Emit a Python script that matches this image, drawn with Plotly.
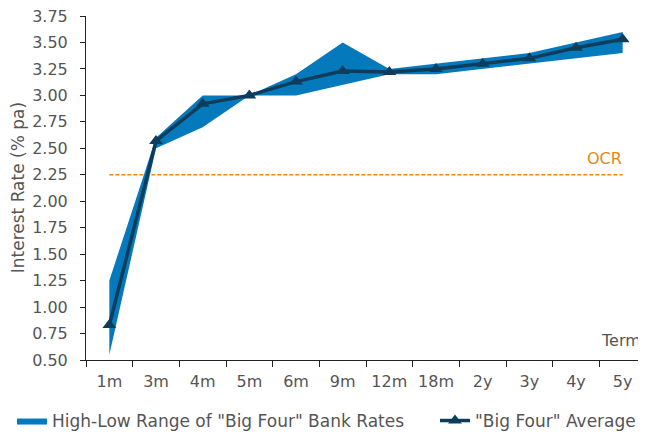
import plotly.graph_objects as go

terms = ["1m", "3m", "4m", "5m", "6m", "9m", "12m", "18m", "2y", "3y", "4y", "5y"]
avg_rate = [0.83, 2.57, 2.92, 3.00, 3.13, 3.23, 3.22, 3.25, 3.30, 3.35, 3.45, 3.53]
high_rate = [1.25, 2.60, 3.00, 3.00, 3.20, 3.50, 3.25, 3.30, 3.35, 3.40, 3.50, 3.60]
low_rate = [0.55, 2.50, 2.70, 3.00, 3.00, 3.10, 3.20, 3.20, 3.25, 3.30, 3.35, 3.40]
ocr_rate = [2.25] * len(terms)
y_ticks = [0.50, 0.75, 1.00, 1.25, 1.50, 1.75, 2.00, 2.25, 2.50, 2.75, 3.00, 3.25, 3.50, 3.75]

BAND = "#0479BC"
NAVY = "#0E3D5C"
ORANGE = "#E8890C"
TXT = "#555555"
FONT = "DejaVu Sans"

fig = go.Figure()
fig.add_trace(go.Scatter(x=terms, y=low_rate, mode="lines", line=dict(width=0, color=BAND),
                         showlegend=False, hoverinfo="skip"))
fig.add_trace(go.Scatter(x=terms, y=high_rate, mode="lines", line=dict(width=0, color=BAND),
                         fill="tonexty", fillcolor=BAND, legend="legend",
                         name='High-Low Range of "Big Four" Bank Rates'))
fig.add_trace(go.Scatter(x=terms, y=ocr_rate, mode="lines",
                         line=dict(color=ORANGE, width=1.5, dash="4px,2px"), showlegend=False))
fig.add_trace(go.Scatter(x=terms, y=avg_rate, mode="lines+markers",
                         line=dict(color=NAVY, width=3.5),
                         marker=dict(symbol="triangle-up", size=12, color=NAVY),
                         legend="legend2", name='"Big Four" Average'))

fig.add_annotation(x=11, y=2.25, xref="x", yref="y", text="OCR", showarrow=False,
                   xanchor="right", yanchor="bottom", yshift=5, xshift=1,
                   font=dict(family=FONT, size=16, color=ORANGE))
fig.add_annotation(x=1, y=0.5, xref="paper", yref="y", text="Term", showarrow=False,
                   xanchor="right", yanchor="bottom", yshift=8, xshift=-3,
                   font=dict(family=FONT, size=16, color=TXT))
fig.add_annotation(x=-0.121, y=0.5, xref="paper", yref="paper", text="Interest Rate (% pa)",
                   showarrow=False, textangle=-90, xanchor="center", yanchor="middle",
                   font=dict(family=FONT, size=17, color=TXT))

legend_common = dict(orientation="h", xref="container", xanchor="left",
                     yref="container", y=0.026, yanchor="middle",
                     font=dict(family=FONT, size=17, color=TXT),
                     itemwidth=30, bgcolor="rgba(0,0,0,0)")

fig.update_layout(
    width=638, height=424,
    margin=dict(l=78, r=0, t=8, b=72),
    paper_bgcolor="white", plot_bgcolor="white",
    font=dict(family=FONT, size=16, color=TXT),
    showlegend=True,
    legend=dict(x=4 / 638, **legend_common),
    legend2=dict(x=427 / 638, **legend_common),
)
fig.update_xaxes(type="category", range=[-0.5, 11.5], showline=True, linecolor="#222",
                 linewidth=1, ticks="outside", tickson="boundaries", ticklen=6,
                 tickcolor="#222", showgrid=False, zeroline=False, automargin=False,
                 tickangle=0, ticklabeloverflow="allow", ticklabelstandoff=7,
                 tickfont=dict(family=FONT, size=16, color=TXT))
fig.update_yaxes(range=[0.5, 3.75], tickvals=y_ticks, ticktext=[f"{v:.2f}" for v in y_ticks],
                 showline=True, linecolor="#222", linewidth=1, ticks="outside", ticklen=5,
                 tickcolor="#222", showgrid=False, zeroline=False, automargin=False,
                 ticklabeloverflow="allow", ticklabelstandoff=9,
                 tickfont=dict(family=FONT, size=16, color=TXT))

fig.write_html("out.html")
